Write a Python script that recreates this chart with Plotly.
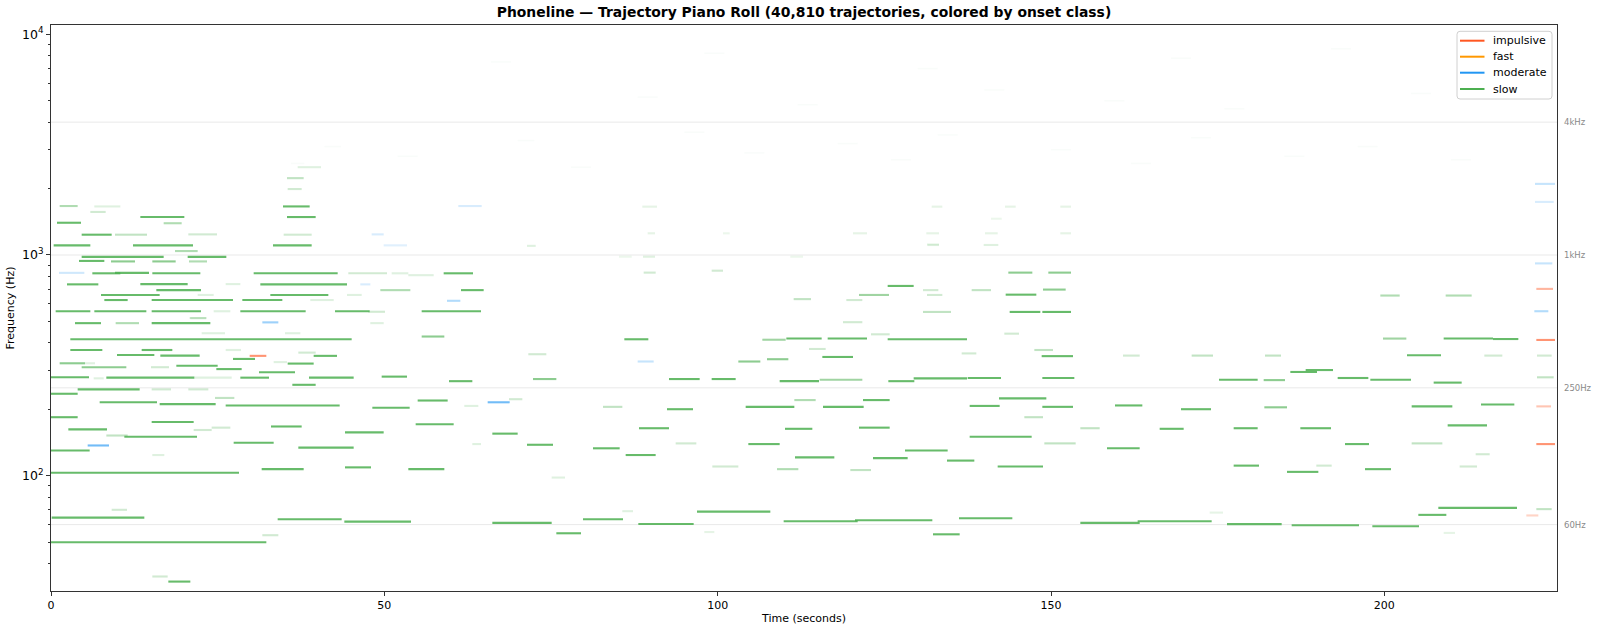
import math
import plotly.graph_objects as go

# ---------------- data ----------------
DURATION = 225.9
F_MIN, F_MAX = 30, 11025

classes = ["impulsive", "fast", "moderate", "slow"]
class_colors = ["#FF5722", "#FF9800", "#2196F3", "#4CAF50"]

# slow-onset trajectories: start (s), end (s), frequency (Hz), relative amplitude
slow_t0 = [1.3, 34.8, 13.4, 35.4, 0.9, 4.6, 0.4, 12.3, 33.3, 18.6, 4.6, 10.8, 20.5, 4.2, 9.0, 15.2, 20.7,
           6.2, 9.6, 15.2, 30.4, 58.9, 2.4, 13.4, 31.4, 7.5, 15.8, 32.9, 61.5, 8.0, 15.1, 28.7,
           0.7, 6.5, 15.1, 28.4, 42.6, 55.6, 3.6, 9.7, 15.1, 2.9, 55.6, 2.9, 13.6, 9.9, 16.4, 27.3,
           39.4, 1.3, 35.5, 4.6, 18.8, 24.8, 31.2, 0.0, 8.3, 28.4, 38.7, 49.6, 59.7, 36.2, 4.0, 0.0,
           7.3, 16.3, 26.2, 48.2, 55.0, 0.0, 15.1, 33.0, 54.7, 2.6, 44.1, 11.0, 8.3, 27.4, 37.1, 0.0,
           0.0, 31.6, 44.1, 53.6, 9.1, 0.1, 34.0, 44.0, 66.2, 31.7, 0.0, 15.2, 17.6,
           143.8, 148.7, 86.0, 106.7, 110.3, 116.5, 125.5, 115.7, 107.4, 103.1, 72.3, 92.7, 99.1, 109.3,
           115.3, 125.6, 129.4, 137.5, 142.2, 104.2, 115.8, 121.8, 137.8, 92.4, 82.8, 111.5, 88.2, 110.1,
           121.2, 66.2, 71.4, 104.6, 137.8, 81.3, 86.2, 111.6, 123.3, 128.1, 134.4, 142.0, 93.7, 108.9,
           119.9, 99.2, 75.1, 79.8, 88.1, 96.9, 75.8, 109.9, 120.6, 132.3, 136.2, 85.7, 98.0, 68.7,
           146.0, 147.5, 71.6, 136.6, 113.7, 123.0, 130.8, 118.8, 143.0,
           148.6, 148.7, 148.7, 199.8, 208.9, 216.3, 203.4, 171.1, 160.8, 182.1, 215.0, 222.9, 188.2,
           185.9, 193.0, 197.9, 175.2, 181.9, 207.4, 222.9, 159.6, 169.5, 182.0, 204.1, 214.5, 166.3,
           177.4, 187.4, 209.5, 154.4, 158.4, 194.1, 204.1, 149.0, 177.4, 185.4, 197.1, 189.8, 211.3,
           213.7, 154.4, 163.0, 176.4, 186.1, 198.2, 205.1, 208.1, 222.8, 208.9, 173.8,
           143.6, 149.6, 148.8, 143.2, 199.4, 209.2, 125.5, 121.2, 111.4, 119.3, 130.8, 138.1, 131.4,
           99.1, 88.9, 88.8, 139.9, 131.4, 71.4,
           5.9, 6.5, 16.9, 9.6, 20.6, 34.9, 35.5, 35.4, 37.0, 44.6, 49.4, 51.1, 53.6, 26.2, 22.0, 44.4,
           38.9, 24.4, 47.6, 20.9, 22.6, 35.1, 26.2, 37.1, 33.4, 15.0, 21.5, 15.1, 20.6, 24.6, 62.0,
           21.4, 24.1, 15.2, 63.2, 5.1, 6.4, 20.8, 47.9,
           88.7, 132.1, 143.1, 151.4, 141.0, 89.5, 100.8, 120.3, 131.3, 140.1, 151.4, 131.5, 85.2, 110.9]
slow_t1 = [4.0, 38.8, 20.0, 39.7, 4.5, 9.1, 5.9, 21.3, 39.1, 22.0, 10.8, 16.9, 26.3, 8.0, 12.6, 18.7, 23.4,
           10.4, 14.7, 22.4, 43.0, 63.3, 7.1, 20.5, 44.4, 16.3, 22.5, 41.6, 64.9, 11.5, 27.3, 34.7,
           5.9, 14.3, 22.5, 38.2, 47.8, 64.5, 7.5, 13.2, 23.9, 45.1, 59.0, 7.7, 18.2, 15.5, 22.3, 30.6,
           42.9, 5.1, 39.4, 11.3, 25.0, 28.6, 36.6, 5.7, 21.5, 32.7, 45.4, 53.4, 63.2, 39.7, 13.3, 4.0,
           15.9, 24.7, 43.3, 53.8, 59.5, 4.0, 21.4, 37.6, 60.4, 8.4, 49.9, 21.9, 11.5, 33.4, 45.4, 5.8,
           28.2, 37.9, 48.0, 59.0, 11.4, 14.0, 43.6, 54.0, 75.1, 34.1, 32.3, 17.5, 20.9,
           148.4, 153.0, 89.6, 110.2, 115.6, 122.4, 137.4, 120.3, 110.6, 106.4, 75.8, 97.3, 102.7, 115.2,
           121.7, 129.5, 137.4, 142.5, 149.3, 111.5, 121.9, 125.8, 142.3, 96.3, 85.7, 114.7, 92.7, 114.2,
           125.8, 70.0, 75.3, 109.3, 147.1, 85.3, 90.7, 117.5, 128.5, 134.5, 138.5, 148.8, 96.8, 112.1,
           123.0, 103.1, 77.1, 85.8, 96.4, 107.9, 79.5, 121.0, 132.2, 136.3, 144.2, 87.3, 99.5, 70.7,
           148.8, 150.3, 74.3, 138.8, 116.2, 125.8, 135.0, 121.7, 145.2,
           153.3, 153.5, 153.3, 203.3, 216.3, 220.1, 208.5, 174.3, 163.3, 184.5, 217.7, 225.1, 192.3,
           189.9, 197.6, 204.0, 181.0, 185.1, 211.6, 225.4, 163.7, 174.0, 185.4, 210.2, 219.5, 169.9,
           181.0, 192.0, 215.4, 157.3, 163.3, 197.7, 208.7, 153.7, 181.2, 190.1, 201.0, 192.1, 213.9,
           215.8, 163.3, 174.1, 184.6, 196.2, 205.2, 209.3, 219.9, 225.1, 210.6, 175.8,
           147.2, 153.0, 152.2, 147.8, 202.3, 213.1, 129.4, 125.7, 114.0, 121.7, 133.1, 141.0, 133.7,
           100.8, 90.7, 90.6, 142.1, 133.2, 72.7,
           8.2, 10.4, 19.6, 14.4, 24.9, 39.1, 37.6, 37.9, 40.5, 50.4, 53.9, 53.6, 57.4, 28.4, 24.4, 46.6,
           42.4, 26.9, 50.1, 23.3, 26.1, 37.4, 28.5, 39.7, 35.4, 17.7, 27.1, 18.0, 23.6, 27.5, 64.1,
           24.1, 26.9, 17.0, 64.5, 6.6, 7.9, 23.3, 49.9,
           90.9, 133.7, 144.7, 153.0, 142.6, 90.6, 101.8, 122.4, 133.2, 142.0, 153.0, 133.2, 87.1, 112.8]
slow_f = [1667, 1660, 1486, 1486, 1400, 1236, 1106, 1106, 1106, 1042, 981, 981, 981, 940, 935, 935, 935,
          826, 830, 826, 826, 826, 736, 738, 736, 659, 693, 659, 693, 625, 625, 625,
          556, 556, 556, 556, 556, 556, 491, 491, 491, 415, 427, 371, 371, 352, 350, 338,
          349, 323, 322, 310, 315, 304, 294, 279, 278, 278, 278, 281, 268, 258, 246, 235,
          215, 211, 208, 203, 219, 184, 175, 167, 171, 162, 157, 150, 152, 141, 134, 130,
          103, 107, 109, 107, 70, 64.5, 63.4, 61.9, 61.1, 53.7, 49.9, 34.9, 33.1,
          552, 552, 415, 413, 418, 418, 415, 345, 337, 329, 274, 274, 274, 268,
          272, 268, 276, 277, 224, 205, 205, 220, 207, 200, 205, 220, 164, 163,
          165, 155, 138, 139, 150, 133, 124, 121, 120, 130, 117, 110, 140, 107,
          106, 110, 98, 63.4, 60.4, 68.7, 54.8, 62.1, 62.8, 54.2, 64.1, 69, 55.5, 222,
          184, 371, 355, 358, 375, 437, 552, 496, 440,
          348, 277, 205, 418, 418, 416, 351, 350, 350, 350, 350, 350, 301,
          295, 277, 272, 272, 271, 264, 279, 208, 200, 204, 206, 210, 163,
          164, 164, 169, 164, 133, 139, 140, 140, 111, 104, 107, 111, 110,
          125, 61.1, 62.1, 60.3, 59.6, 59.0, 66.4, 71.4, 70.5, 55, 68,
          832, 832, 697, 661, 655, 655, 724, 659, 631, 625, 693, 693, 659,
          849, 832, 982, 1110, 1115, 1100,
          1567, 1660, 1393, 1236, 1240, 1236, 1990, 2230, 2500, 826, 693, 826, 810, 738, 659, 659,
          625, 556, 553, 517, 442, 442, 371, 361, 327, 310, 278, 246, 246, 225, 207,
          161, 165, 124, 139, 323, 276, 518, 491,
          1656, 1656, 1656, 1656, 1460, 1254, 1254, 1254, 1254, 1254, 1254, 1109, 982, 982]
slow_amp = [0.6, 1, 1, 1, 1, 1, 1, 1, 1, 0.6, 1, 1, 1, 1, 0.8, 0.8, 0.6,
            1, 1, 1, 1, 1, 1, 1, 1, 1, 1, 1, 1, 1, 1, 1,
            1, 1, 1, 1, 1, 1, 1, 0.6, 1, 1, 0.8, 1, 1, 1, 1, 1,
            1, 0.8, 1, 0.8, 1, 1, 1, 1, 1, 1, 1, 1, 1, 1, 1, 1,
            1, 1, 1, 1, 1, 1, 1, 1, 1, 1, 1, 1, 0.5, 1, 1, 1,
            1, 1, 1, 1, 0.4, 1, 1, 1, 1, 0.4, 1, 0.4, 1,
            1, 1, 1, 0.7, 1, 1, 1, 1, 0.8, 0.8, 0.8, 1, 1, 1,
            0.7, 1, 1, 1, 1, 1, 1, 1, 1, 1, 0.5, 0.6, 1, 1,
            1, 1, 1, 1, 1, 1, 1, 1, 1, 1, 1, 1, 0.4, 0.6,
            0.5, 0.4, 0.3, 1, 1, 1, 1, 1, 1, 1, 1, 0.3, 0.25, 0.4,
            0.5, 0.5, 0.4, 0.4, 0.4, 0.4, 0.5, 0.4, 0.4,
            1, 1, 1, 0.7, 1, 1, 1, 0.5, 0.4, 0.5, 0.4, 0.4, 1,
            1, 1, 1, 1, 0.8, 1, 0.5, 1, 1, 0.8, 1, 1, 1,
            1, 1, 1, 0.5, 1, 1, 0.5, 0.5, 1, 1, 1, 0.4, 0.4,
            0.4, 1, 1, 1, 1, 1, 1, 1, 0.5, 0.25, 0.25,
            0.8, 0.8, 0.8, 1, 0.6, 0.6, 1, 0.7, 0.5, 0.4, 0.4, 0.5, 0.4,
            0.4, 0.4, 0.3, 0.3, 0.3, 0.3,
            0.4, 0.3, 0.6, 0.5, 0.4, 0.4, 0.4, 0.5, 0.3, 0.4, 0.6, 0.3, 0.3, 0.3, 0.3, 0.3,
            0.3, 0.3, 0.4, 0.3, 0.3, 0.3, 0.3, 0.4, 0.3, 0.4, 0.3, 0.4, 0.4, 0.5, 0.3,
            0.4, 0.4, 0.3, 0.3, 0.3, 0.3, 0.4, 0.3,
            0.25, 0.25, 0.25, 0.25, 0.2, 0.25, 0.2, 0.25, 0.25, 0.25, 0.25, 0.2, 0.2, 0.2]

# moderate-onset trajectories
mod_t0 = [31.7, 65.5, 5.5, 88.0, 48.1, 61.1, 1.2, 59.4, 222.5, 46.4, 49.9, 222.6, 222.6, 222.6]
mod_t1 = [34.1, 68.8, 8.7, 90.4, 49.9, 64.6, 5.0, 61.4, 224.6, 47.9, 53.4, 225.6, 225.2, 225.4]
mod_f = [495, 215, 137, 329, 1240, 1667, 830, 620, 556, 736, 1106, 2100, 916, 1740]
mod_amp = [0.6, 0.8, 0.8, 0.4, 0.3, 0.3, 0.35, 0.5, 0.5, 0.3, 0.25, 0.4, 0.4, 0.3]

# impulsive-onset trajectories
imp_t0 = [29.8, 222.8, 222.8, 222.8, 221.3, 222.8]
imp_t1 = [32.3, 225.6, 225.0, 225.6, 223.1, 225.3]
imp_f = [349, 412, 206, 139, 66, 702]
imp_amp = [0.8, 0.8, 0.5, 0.8, 0.4, 0.6]

# fast-onset trajectories (none clearly visible)
fast_t0 = []
fast_t1 = []
fast_f = []
fast_amp = []

# very faint high-register trajectories (haze)
haze_t0 = [36.0, 41.0, 52.0, 70.0, 78.0, 95.0, 104.0, 118.0, 126.0, 133.0, 150.0, 162.0, 171.0, 185.0,
           196.0, 210.0, 88.0, 112.0, 140.0, 158.0, 176.0, 204.0, 66.0, 98.0, 130.0, 168.0, 192.0, 216.0]
haze_t1 = [38.0, 43.5, 55.0, 72.5, 81.0, 98.0, 107.0, 121.0, 129.0, 136.0, 153.0, 165.0, 174.0, 188.0,
           199.0, 213.0, 91.0, 115.0, 143.0, 161.0, 179.0, 207.0, 69.0, 101.0, 133.0, 171.0, 195.0, 219.0]
haze_f = [2600, 3100, 2800, 3300, 2500, 3600, 2900, 3200, 2700, 3500, 3000, 2600, 3400, 2800,
          3100, 2700, 5200, 4800, 5600, 5000, 4600, 5400, 7500, 8200, 7000, 7800, 8600, 7200]

ref_freqs = [60, 250, 1000, 4000]
ref_labels = ["60Hz", "250Hz", "1kHz", "4kHz"]

x_ticks = [0, 50, 100, 150, 200]
y_ticks = [100, 1000, 10000]
y_ticktext = ["10<sup>2</sup>", "10<sup>3</sup>", "10<sup>4</sup>"]
y_minor = [40, 50, 60, 70, 80, 90, 200, 300, 400, 500, 600, 700, 800, 900,
           2000, 3000, 4000, 5000, 6000, 7000, 8000, 9000]

TITLE = "Phoneline \u2014 Trajectory Piano Roll (40,810 trajectories, colored by onset class)"

# ---------------- figure ----------------
W, H = 1600, 633
ML, MR, MT, MB = 51, 43, 25, 42
PW, PH = W - ML - MR, H - MT - MB


def px_x(x):
    return (x - ML) / PW


def px_y(y):
    return 1 - (y - MT) / PH


def hex_rgba(h, a):
    h = h.lstrip("#")
    return "rgba(%d,%d,%d,%.3f)" % (int(h[0:2], 16), int(h[2:4], 16), int(h[4:6], 16), a)


fig = go.Figure()

# reference lines
for rf in ref_freqs:
    fig.add_trace(go.Scatter(x=[0, DURATION], y=[rf, rf], mode="lines",
                             line=dict(color="rgba(170,170,170,0.25)", width=1),
                             hoverinfo="skip", showlegend=False))


def add_segments(t0, t1, f, amp, color, width=2.1):
    groups = {}
    for a, b, fr, am in zip(t0, t1, f, amp):
        groups.setdefault(am, []).append((a, b, fr))
    for am in sorted(groups):
        xs, ys = [], []
        for a, b, fr in groups[am]:
            xs += [a, b, None]
            ys += [fr, fr, None]
        op = min(1.0, 0.85 * am ** 1.3)
        fig.add_trace(go.Scatter(x=xs, y=ys, mode="lines",
                                 line=dict(color=hex_rgba(color, op), width=width),
                                 hoverinfo="skip", showlegend=False, connectgaps=False))


add_segments(haze_t0, haze_t1, haze_f, [0.08] * len(haze_f), "#4CAF50", width=1.5)
add_segments(slow_t0, slow_t1, slow_f, slow_amp, class_colors[3])
add_segments(mod_t0, mod_t1, mod_f, mod_amp, class_colors[2])
add_segments(fast_t0, fast_t1, fast_f, fast_amp, class_colors[1])
add_segments(imp_t0, imp_t1, imp_f, imp_amp, class_colors[0])

annotations = []
shapes = []
for rf, lab in zip(ref_freqs, ref_labels):
    annotations.append(dict(x=1.003, xref="paper", y=math.log10(rf), yref="y", text=lab,
                            showarrow=False, xanchor="left", yanchor="middle",
                            font=dict(size=8.5, color="#8a8a8a")))

# legend box drawn in the matplotlib style (rounded frame, short line samples)
LX0, LX1, LY0, LY1, R = 1457, 1552, 31.3, 99.0, 3
path = ("M {a},{b} L {c},{b} Q {d},{b} {d},{e} L {d},{f} Q {d},{g} {c},{g} "
        "L {a},{g} Q {h},{g} {h},{f} L {h},{e} Q {h},{b} {a},{b} Z").format(
    a=px_x(LX0 + R), b=px_y(LY0), c=px_x(LX1 - R), d=px_x(LX1), e=px_y(LY0 + R),
    f=px_y(LY1 - R), g=px_y(LY1), h=px_x(LX0))
shapes.append(dict(type="path", xref="paper", yref="paper", path=path,
                   fillcolor="rgba(255,255,255,0.8)", line=dict(color="#d0d0d0", width=1)))
entry_y = [40.7, 56.7, 72.7, 89.0]
for name, col, ey in zip(classes, class_colors, entry_y):
    shapes.append(dict(type="line", xref="paper", yref="paper",
                       x0=px_x(1460), x1=px_x(1484.5), y0=px_y(ey), y1=px_y(ey),
                       line=dict(color=col, width=2)))
    annotations.append(dict(x=px_x(1491), xref="paper", y=px_y(ey), yref="paper", text=name,
                            showarrow=False, xanchor="left", yanchor="middle",
                            font=dict(size=11, color="black")))

fig.update_layout(
    width=W, height=H,
    margin=dict(l=ML, r=MR, t=MT, b=MB),
    paper_bgcolor="white", plot_bgcolor="white",
    font=dict(family="DejaVu Sans", size=11, color="black"),
    title=dict(text=TITLE, x=0.5, xref="paper", xanchor="center",
               y=1 - 12.5 / H, yref="container", yanchor="middle",
               font=dict(family="DejaVu Sans", size=13.9, color="black", weight="bold")),
    showlegend=False,
    annotations=annotations,
    shapes=shapes,
)

fig.update_xaxes(range=[0, DURATION], showline=True, mirror=True, linecolor="#333", linewidth=1,
                 ticks="outside", ticklen=4, tickcolor="#333", tickvals=x_ticks,
                 showgrid=False, zeroline=False, tickfont=dict(size=11), automargin=False,
                 title=dict(text="Time (seconds)", font=dict(size=11), standoff=3))
fig.update_yaxes(type="log", range=[math.log10(F_MIN), math.log10(F_MAX)],
                 showline=True, mirror=True, linecolor="#333", linewidth=1,
                 ticks="outside", ticklen=4, tickcolor="#333",
                 tickvals=y_ticks, ticktext=y_ticktext, showgrid=False, zeroline=False,
                 tickfont=dict(size=12.5), automargin=False,
                 minor=dict(tickvals=y_minor, ticks="outside", ticklen=2, tickcolor="#333", showgrid=False),
                 title=dict(text="Frequency (Hz)", font=dict(size=11), standoff=5))

fig.write_html("out.html")
